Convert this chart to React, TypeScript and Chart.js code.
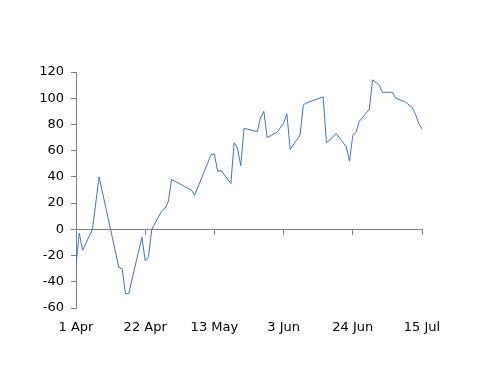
import React, { useEffect, useRef } from "react";
import { Chart, registerables } from "chart.js";

Chart.register(...registerables);

// day offsets from 1 Apr
const days = [0, 1, 2, 5, 7, 13, 14, 15, 16, 20, 21, 22, 23, 26, 27, 28, 29, 35, 36, 41, 42, 43, 44, 47, 48, 49, 50, 51, 55, 56, 57, 58, 61, 63, 64, 65, 68, 69, 70, 75, 76, 79, 82, 83, 84, 85, 86, 89, 90, 92, 93, 96, 97, 100, 102, 103, 104, 105];
const values = [-27, -3, -16, 0, 40, -29, -30, -49, -49, -6, -24, -21, 0, 14, 16, 21, 38, 30, 26, 57, 57.5, 44, 45, 35, 66, 62, 48.6, 77, 74.5, 85, 90, 70, 74, 81, 88, 61, 72, 95, 96.5, 101, 66, 73, 63, 52, 71.7, 74, 82.5, 91.5, 114, 110, 104.5, 104.5, 100, 97, 93, 88, 80.6, 76.6];
const tickLabels = ["1 Apr", "22 Apr", "13 May", "3 Jun", "24 Jun", "15 Jul"];
const yTicks = { min: -60, max: 120, step: 20 };

export default function App() {
  const ref = useRef<HTMLCanvasElement | null>(null);
  useEffect(() => {
    if (!ref.current) return;
    const axisColor = "#7f7f7f";
    const font = { family: "DejaVu Sans", size: 13 };
    const chart = new Chart(ref.current, {
      type: "line",
      data: {
        datasets: [
          {
            data: days.map((d, i) => ({ x: d, y: values[i] })),
            borderColor: "#4472C4",
            borderWidth: 1,
            pointRadius: 0,
            tension: 0,
            xAxisID: "x",
            yAxisID: "y",
          },
        ],
      },
      options: {
        animation: false,
        responsive: false,
        maintainAspectRatio: false,
        plugins: { legend: { display: false }, tooltip: { enabled: false } },
        layout: { padding: { left: 36, top: 72, right: 78, bottom: 50 } },
        scales: {
          x: {
            type: "linear",
            position: "bottom",
            min: 0,
            max: 105,
            grid: { display: false, drawTicks: false },
            border: { display: false },
            ticks: {
              stepSize: 21,
              autoSkip: false,
              maxRotation: 0,
              padding: 12,
              color: "#000",
              font,
              callback: (v: any) => tickLabels[Math.round(Number(v) / 21)] ?? "",
            },
            afterFit: (s: any) => {
              s.height = 28;
            },
          },
          x2: {
            type: "linear",
            position: { y: 0 } as any,
            min: 0,
            max: 105,
            grid: { drawOnChartArea: false, drawTicks: true, tickLength: 5, color: axisColor },
            border: { display: true, color: axisColor, width: 1 },
            ticks: { display: false, stepSize: 21, autoSkip: false },
          },
          y: {
            type: "linear",
            position: "left",
            min: yTicks.min,
            max: yTicks.max,
            grid: { drawOnChartArea: false, drawTicks: true, tickLength: 5, color: axisColor },
            border: { display: true, color: axisColor, width: 1 },
            ticks: { stepSize: yTicks.step, padding: 7, color: "#000", font },
            afterFit: (s: any) => {
              s.width = 40;
            },
          },
        },
      },
    });
    return () => chart.destroy();
  }, []);
  return (
    <div style={{ position: "absolute", left: 0, top: 0, width: 500, height: 386, background: "#fff" }}>
      <canvas ref={ref} width={500} height={386} style={{ width: 500, height: 386 }} />
    </div>
  );
}
